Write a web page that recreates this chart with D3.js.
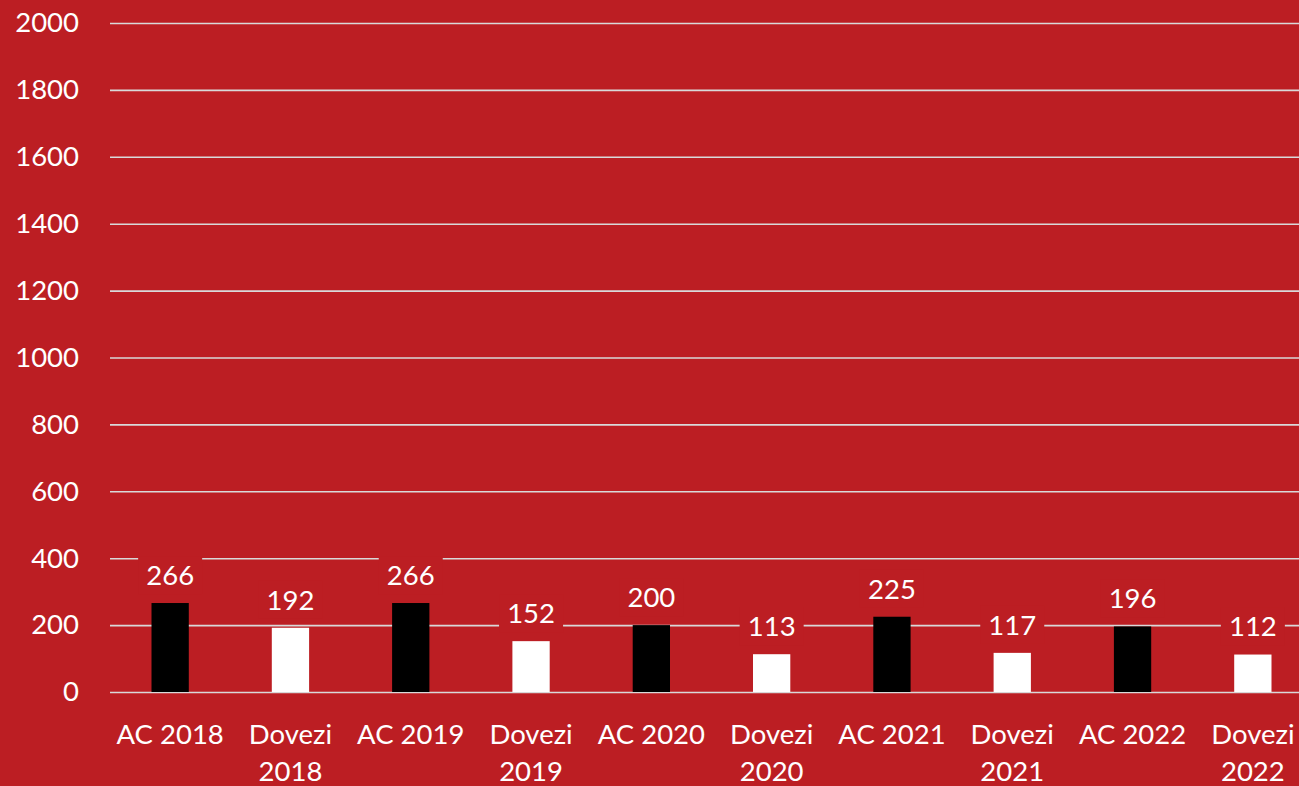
<!DOCTYPE html>
<html>
<head>
<meta charset="utf-8">
<script src="https://cdn.jsdelivr.net/npm/d3@7"></script>
<style>
  html, body { margin: 0; padding: 0; background: #bc1e23; overflow: hidden; }
  #chart_div { width: 1299px; height: 786px; }
</style>
</head>
<body>
<div id="chart_div"></div>
<script>
// categories and values
var categories = ["AC 2018", "Dovezi 2018", "AC 2019", "Dovezi 2019", "AC 2020",
                  "Dovezi 2020", "AC 2021", "Dovezi 2021", "AC 2022", "Dovezi 2022"];
var values = [266, 192, 266, 152, 200, 113, 225, 117, 196, 112];
var barColors = ["#000000", "#ffffff"];
var yTicks = [0, 200, 400, 600, 800, 1000, 1200, 1400, 1600, 1800, 2000];

var width = 1299, height = 786;
var bg = "#bc1e23";
var fontFamily = "Lato, 'Open Sans', sans-serif";

var marginTop = 23, marginBottom = 94, marginLeft = 110;
var plotRight = marginLeft + 1203; // last category runs past the window edge

var svg = d3.select("#chart_div")
    .append("svg")
    .attr("width", width)
    .attr("height", height)
    .attr("viewBox", [0, 0, width, height])
    .style("font-family", fontFamily);

svg.append("rect")
    .attr("width", width)
    .attr("height", height)
    .attr("fill", bg);

var x = d3.scaleBand()
    .domain(categories)
    .range([marginLeft, plotRight])
    .paddingInner(0.69)
    .paddingOuter(0.345);

var y = d3.scaleLinear()
    .domain([0, 2000])
    .range([height - marginBottom, marginTop]);

// gridlines + y labels
var yAxis = svg.append("g")
    .attr("transform", `translate(${marginLeft},0)`)
    .call(d3.axisLeft(y).tickValues(yTicks).tickFormat(d3.format("d")).tickSize(0).tickPadding(31))
    .call(g => g.select(".domain").remove());

yAxis.selectAll(".tick text")
    .attr("fill", "#ffffff")
    .style("font-size", "27.5px")
    .style("font-family", fontFamily);

yAxis.selectAll(".tick line")
    .attr("x2", plotRight - marginLeft)
    .attr("stroke", "#d9d9d9")
    .attr("stroke-width", 1.6);

// bars
svg.append("g")
  .selectAll("rect")
  .data(values)
  .join("rect")
    .attr("x", (d, i) => x(categories[i]))
    .attr("y", d => y(d))
    .attr("width", x.bandwidth())
    .attr("height", d => y(0) - y(d))
    .attr("fill", (d, i) => barColors[i % 2]);

// value labels with a background box that hides the gridlines
var labels = svg.append("g")
  .selectAll("g")
  .data(values)
  .join("g")
    .attr("transform", (d, i) => `translate(${x(categories[i]) + x.bandwidth() / 2},${y(d) - 28})`);

labels.append("rect")
    .attr("x", -32)
    .attr("y", -19)
    .attr("width", 64)
    .attr("height", 38)
    .attr("fill", bg);

labels.append("text")
    .attr("text-anchor", "middle")
    .attr("dy", "0.36em")
    .attr("fill", "#ffffff")
    .style("font-size", "27.5px")
    .text(d => d);

// category labels (wrapped on two lines where needed)
var xLabels = svg.append("g")
  .selectAll("text")
  .data(categories)
  .join("text")
    .attr("text-anchor", "middle")
    .attr("fill", "#ffffff")
    .style("font-size", "27.5px")
    .attr("transform", d => `translate(${x(d) + x.bandwidth() / 2},${y(0) + 52})`);

xLabels.each(function(d) {
  var parts = d.startsWith("AC") ? [d] : d.split(" ");
  d3.select(this).selectAll("tspan")
    .data(parts)
    .join("tspan")
      .attr("x", 0)
      .attr("dy", (p, j) => j === 0 ? 0 : 37)
      .text(p => p);
});
</script>
</body>
</html>
